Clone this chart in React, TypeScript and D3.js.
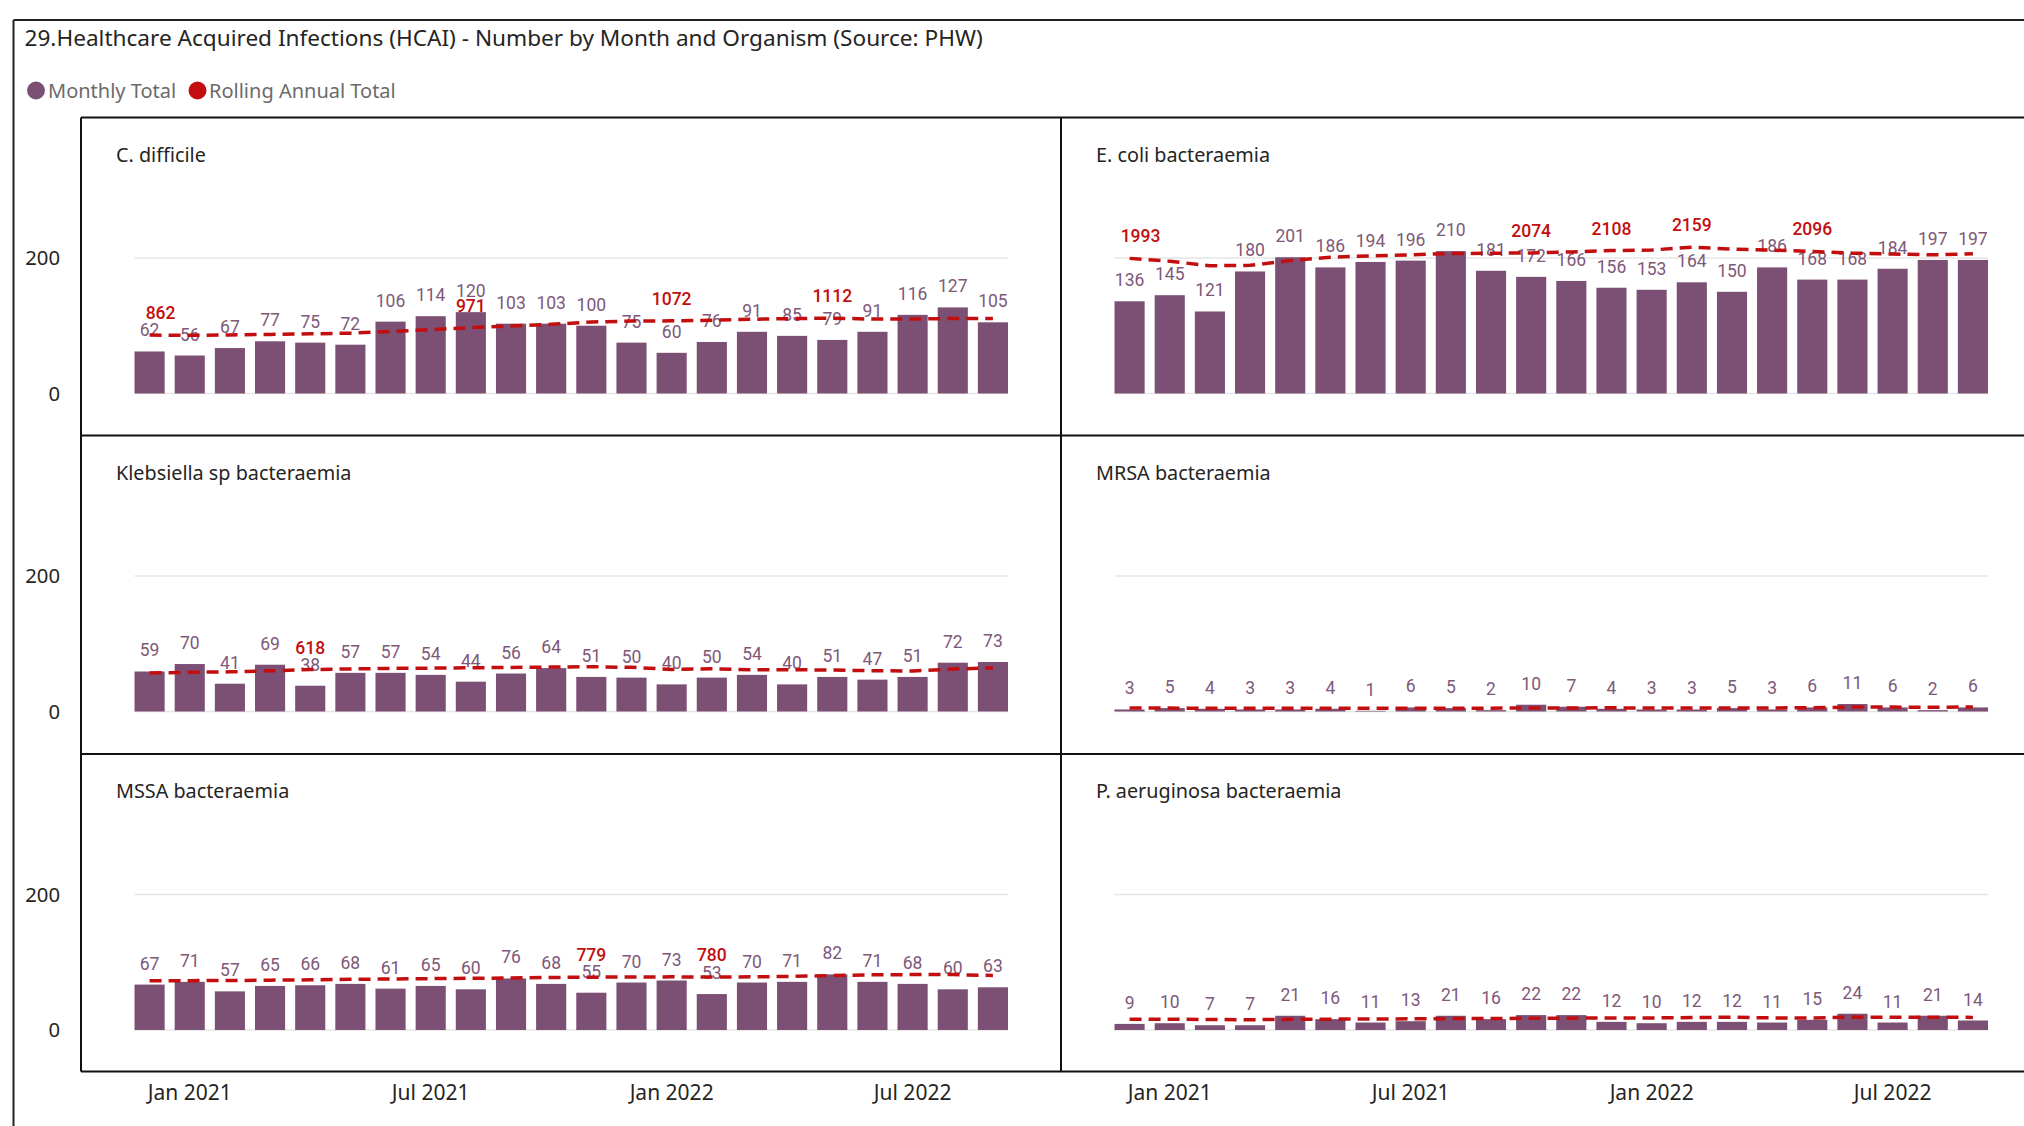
import * as d3 from "d3";
import React from "react";

// months on the x axis (Dec 2020 .. Sep 2022)
const months = [
  "Dec 2020", "Jan 2021", "Feb 2021", "Mar 2021", "Apr 2021", "May 2021", "Jun 2021",
  "Jul 2021", "Aug 2021", "Sep 2021", "Oct 2021", "Nov 2021", "Dec 2021", "Jan 2022",
  "Feb 2022", "Mar 2022", "Apr 2022", "May 2022", "Jun 2022", "Jul 2022", "Aug 2022", "Sep 2022",
];
const tickMonths = ["Jan 2021", "Jul 2021", "Jan 2022", "Jul 2022"];
const yTicks = [0, 200];

const organisms = [
  "C. difficile",
  "E. coli bacteraemia",
  "Klebsiella sp bacteraemia",
  "MRSA bacteraemia",
  "MSSA bacteraemia",
  "P. aeruginosa bacteraemia",
];

// monthly totals
const cDiffMonthly = [62, 56, 67, 77, 75, 72, 106, 114, 120, 103, 103, 100, 75, 60, 76, 91, 85, 79, 91, 116, 127, 105];
const eColiMonthly = [136, 145, 121, 180, 201, 186, 194, 196, 210, 181, 172, 166, 156, 153, 164, 150, 186, 168, 168, 184, 197, 197];
const klebMonthly = [59, 70, 41, 69, 38, 57, 57, 54, 44, 56, 64, 51, 50, 40, 50, 54, 40, 51, 47, 51, 72, 73];
const mrsaMonthly = [3, 5, 4, 3, 3, 4, 1, 6, 5, 2, 10, 7, 4, 3, 3, 5, 3, 6, 11, 6, 2, 6];
const mssaMonthly = [67, 71, 57, 65, 66, 68, 61, 65, 60, 76, 68, 55, 70, 73, 53, 70, 71, 82, 71, 68, 60, 63];
const pAerMonthly = [9, 10, 7, 7, 21, 16, 11, 13, 21, 16, 22, 22, 12, 10, 12, 12, 11, 15, 24, 11, 21, 14];

// rolling annual totals (secondary axis)
const cDiffRolling = [862, 858, 864, 872, 880, 890, 915, 942, 971, 995, 1020, 1055, 1068, 1072, 1081, 1095, 1105, 1112, 1097, 1099, 1106, 1108];
const eColiRolling = [1993, 1950, 1885, 1890, 1960, 2010, 2030, 2045, 2065, 2068, 2074, 2088, 2108, 2116, 2159, 2129, 2114, 2096, 2070, 2058, 2045, 2061];
const klebRolling = [568, 578, 585, 600, 618, 628, 636, 640, 645, 650, 655, 660, 651, 621, 630, 615, 617, 611, 601, 598, 626, 643];
const mrsaRolling = [50, 50, 49, 49, 48, 48, 47, 48, 49, 49, 52, 53, 54, 52, 51, 53, 53, 55, 65, 65, 62, 66];
const mssaRolling = [725, 728, 730, 735, 740, 748, 752, 758, 762, 768, 775, 779, 782, 784, 780, 785, 790, 804, 814, 817, 817, 804];
const pAerRolling = [160, 158, 155, 152, 158, 160, 162, 165, 168, 170, 173, 175, 178, 178, 183, 188, 178, 177, 190, 188, 188, 186];

// which rolling points carry a data label
const cDiffLabelled = [0, 8, 13, 17];
const eColiLabelled = [0, 10, 12, 14, 17];
const klebLabelled = [4];
const mrsaLabelled = [];
const mssaLabelled = [11, 14];
const pAerLabelled = [];

const monthlySeries = [cDiffMonthly, eColiMonthly, klebMonthly, mrsaMonthly, mssaMonthly, pAerMonthly];
const rollingSeries = [cDiffRolling, eColiRolling, klebRolling, mrsaRolling, mssaRolling, pAerRolling];
const labelledSeries = [cDiffLabelled, eColiLabelled, klebLabelled, mrsaLabelled, mssaLabelled, pAerLabelled];

var width = 2024;
var height = 1126;
var colX = [81, 1061];
var rowY = [117.5, 435.5, 754];
var rowH = 317.5;
var zeroOff = 276;
var barColor = "#7C5074";
var labelColor = "#7E5879";
var red = "#C20E0E";
var uiFont = "'Segoe UI', 'Noto Sans', sans-serif";
var numFont = "Roboto, 'DejaVu Sans Condensed', sans-serif";

const x = d3.scaleBand()
  .domain(months)
  .range([48.5, 932])
  .paddingInner(0.25)
  .paddingOuter(0.125);

const y = d3.scaleLinear().domain([0, 300]).range([zeroOff, zeroOff - 203.4]);
const y2 = d3.scaleLinear().domain([0, 3000]).range([zeroOff, zeroOff - 203.4]);

const cx = (m) => x(m) + x.bandwidth() / 2;

function Panel({ name, monthly, rolling, labelled, tx, ty }) {
  const line = d3.line()
    .x((d, i) => cx(months[i]))
    .y((d) => y2(d));
  const x0 = x(months[0]);
  const x1 = x(months[months.length - 1]) + x.bandwidth();
  return (
    <g transform={"translate(" + tx + "," + ty + ")"}>
      <text x={35} y={44} fontFamily={uiFont} fontSize={19.8} fill="#252423">{name}</text>
      {yTicks.map((t) => (
        <line key={t} x1={x0} x2={x1} y1={y(t)} y2={y(t)} stroke="#E6E6E6" strokeWidth={1.5} />
      ))}
      {monthly.map((v, i) => (
        <rect key={i} x={x(months[i])} y={y(v)} width={x.bandwidth()} height={y(0) - y(v)} fill={barColor} />
      ))}
      {monthly.map((v, i) => (
        <text key={"l" + i} x={cx(months[i])} y={y(v) - 15} textAnchor="middle"
          fontFamily={numFont} fontSize={17.5} fill={labelColor}>{v}</text>
      ))}
      <path d={line(rolling)} fill="none" stroke={red} strokeWidth={3.5} strokeDasharray="12 7" />
      {labelled.map((i) => (
        <text key={"r" + i} x={cx(months[i]) + (i === 0 ? 11 : 0)} y={y2(rolling[i]) - 16} textAnchor="middle"
          fontFamily={numFont} fontSize={17.5} fontWeight={500} fill={red}>{rolling[i]}</text>
      ))}
    </g>
  );
}

export default function App() {
  return (
    <svg width={width} height={height} style={{ position: "absolute", left: 0, top: 0, background: "#fff" }}>
      <rect x={0} y={0} width={width} height={height} fill="#fff" />
      {/* outer frame */}
      <line x1={13.5} x2={width} y1={20} y2={20} stroke="#222" strokeWidth={2} />
      <line x1={13.5} x2={13.5} y1={20} y2={height} stroke="#222" strokeWidth={2} />

      <text x={24.5} y={46} fontFamily={uiFont} fontSize={22.6} fill="#252423">
        29.Healthcare Acquired Infections (HCAI) - Number by Month and Organism (Source: PHW)
      </text>

      {/* legend */}
      <circle cx={36} cy={90.5} r={9} fill={barColor} />
      <text x={48} y={97.5} fontFamily={uiFont} fontSize={20} fill="#6B6B6B">Monthly Total</text>
      <circle cx={197.5} cy={90.5} r={9} fill={red} />
      <text x={209} y={97.5} fontFamily={uiFont} fontSize={20} fill="#6B6B6B">Rolling Annual Total</text>

      {organisms.map((name, i) => (
        <Panel key={name} name={name} monthly={monthlySeries[i]} rolling={rollingSeries[i]}
          labelled={labelledSeries[i]} tx={colX[i % 2]} ty={rowY[Math.floor(i / 2)]} />
      ))}

      {/* y axis labels, shared on the left */}
      {rowY.map((ry, r) => (
        <g key={r} transform={"translate(0," + ry + ")"}>
          {yTicks.map((t) => (
            <text key={t} x={60} y={y(t)} dy="0.35em" textAnchor="end" fontFamily={uiFont} fontSize={20.3} fill="#252423">{t}</text>
          ))}
        </g>
      ))}

      {/* x axis labels under each column */}
      {colX.map((c) => (
        <g key={c} transform={"translate(" + c + ",0)"}>
          {tickMonths.map((m) => (
            <text key={m} x={cx(m)} y={1100} textAnchor="middle" fontFamily={uiFont} fontSize={21} fill="#252423">{m}</text>
          ))}
        </g>
      ))}

      {/* small multiple grid */}
      <g stroke="#111" strokeWidth={2}>
        <line x1={81} x2={width} y1={rowY[0]} y2={rowY[0]} />
        <line x1={81} x2={width} y1={rowY[1]} y2={rowY[1]} />
        <line x1={81} x2={width} y1={rowY[2]} y2={rowY[2]} />
        <line x1={81} x2={width} y1={rowY[2] + rowH} y2={rowY[2] + rowH} />
        <line x1={colX[0]} x2={colX[0]} y1={rowY[0]} y2={rowY[2] + rowH} />
        <line x1={colX[1]} x2={colX[1]} y1={rowY[0]} y2={rowY[2] + rowH} />
      </g>
    </svg>
  );
}
